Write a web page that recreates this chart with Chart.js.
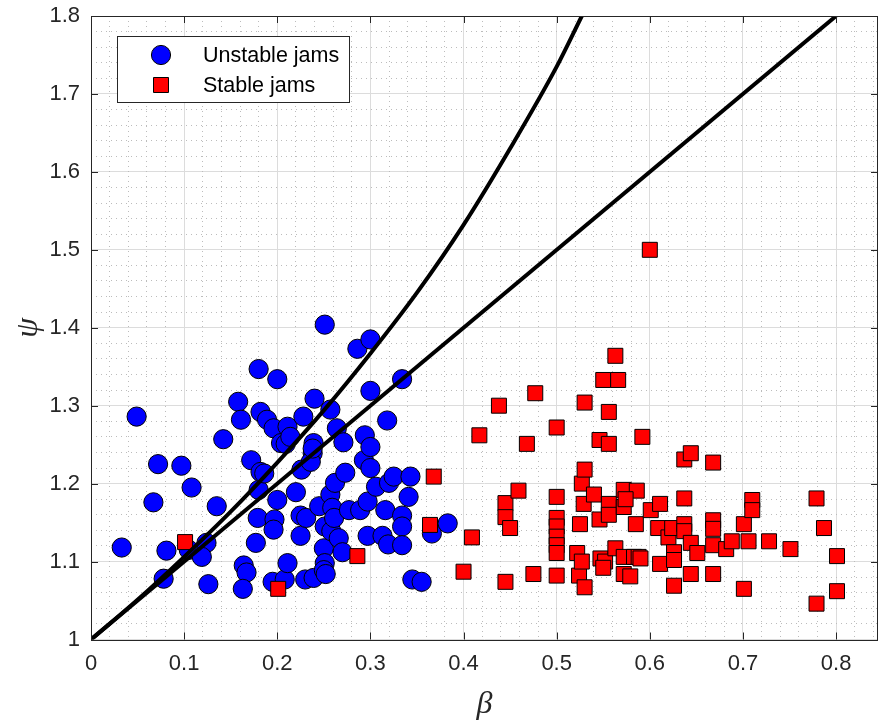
<!DOCTYPE html>
<html><head><meta charset="utf-8">
<script src="https://cdn.jsdelivr.net/npm/chart.js@4/dist/chart.umd.min.js"></script>
<style>html,body{margin:0;padding:0;background:#fff;}#wrap{width:879px;height:724px;}</style>
</head><body><div id="wrap"><canvas id="c" width="879" height="724"></canvas></div>
<script>
const unstableBeta = [0.033,0.049,0.067,0.072,0.081,0.078,0.097,0.108,0.105,0.124,
0.119,0.126,0.135,0.142,0.158,0.161,0.164,0.167,0.163,0.172,
0.177,0.179,0.180,0.180,0.182,0.182,0.186,0.189,0.196,0.195,
0.197,0.196,0.200,0.200,0.204,0.208,0.209,0.211,0.211,0.214,
0.220,0.226,0.225,0.225,0.228,0.231,0.230,0.238,0.236,0.239,
0.239,0.238,0.240,0.245,0.251,0.251,0.250,0.251,0.250,0.252,
0.257,0.257,0.258,0.259,0.261,0.262,0.264,0.266,0.270,0.271,
0.273,0.277,0.286,0.289,0.293,0.294,0.297,0.297,0.300,0.300,
0.300,0.300,0.306,0.313,0.316,0.318,0.319,0.320,0.325,0.334,
0.334,0.334,0.334,0.341,0.343,0.345,0.355,0.366,0.383];
const unstablePsi = [1.118,1.286,1.176,1.225,1.114,1.078,1.223,1.195,1.115,1.124,
1.106,1.071,1.171,1.257,1.305,1.282,1.095,1.086,1.065,1.230,
1.124,1.156,1.347,1.192,1.292,1.215,1.213,1.282,1.271,1.074,
1.154,1.141,1.334,1.179,1.252,1.077,1.251,1.273,1.098,1.260,
1.189,1.218,1.159,1.133,1.286,1.156,1.077,1.239,1.228,1.079,
1.252,1.245,1.309,1.171,1.404,1.145,1.117,1.098,1.089,1.084,
1.295,1.186,1.139,1.169,1.156,1.201,1.271,1.130,1.112,1.253,
1.214,1.166,1.373,1.166,1.230,1.262,1.177,1.133,1.385,1.319,
1.247,1.220,1.196,1.133,1.166,1.281,1.122,1.201,1.209,1.334,
1.159,1.145,1.121,1.183,1.209,1.077,1.074,1.136,1.149];
const stableBeta = [0.101,0.201,0.286,0.364,0.368,0.400,0.409,0.417,0.438,0.445,
0.445,0.445,0.450,0.459,0.468,0.475,0.477,0.500,0.500,0.500,
0.500,0.500,0.500,0.500,0.500,0.522,0.525,0.524,0.527,0.527,
0.529,0.530,0.530,0.530,0.540,0.546,0.546,0.547,0.552,0.550,
0.550,0.556,0.556,0.556,0.556,0.563,0.563,0.566,0.572,0.572,
0.572,0.572,0.579,0.583,0.586,0.585,0.588,0.590,0.592,0.600,
0.601,0.609,0.611,0.611,0.620,0.624,0.626,0.626,0.626,0.637,
0.644,0.637,0.637,0.637,0.644,0.644,0.651,0.668,0.668,0.668,
0.668,0.668,0.682,0.688,0.701,0.701,0.706,0.710,0.710,0.728,
0.751,0.779,0.779,0.787,0.801,0.801,0.574];
const stablePsi = [1.125,1.065,1.107,1.147,1.209,1.087,1.131,1.262,1.300,1.175,
1.157,1.074,1.143,1.191,1.251,1.084,1.316,1.272,1.183,1.156,
1.145,1.132,1.121,1.111,1.082,1.111,1.148,1.082,1.100,1.200,
1.174,1.218,1.067,1.304,1.186,1.256,1.154,1.104,1.100,1.092,
1.333,1.251,1.174,1.160,1.292,1.117,1.364,1.333,1.192,1.170,
1.106,1.084,1.081,1.106,1.191,1.148,1.106,1.104,1.260,1.500,
1.166,1.143,1.174,1.097,1.131,1.143,1.112,1.102,1.069,1.231,
1.239,1.181,1.148,1.139,1.124,1.084,1.111,1.227,1.153,1.142,
1.121,1.084,1.116,1.126,1.148,1.065,1.126,1.179,1.166,1.126,
1.116,1.181,1.046,1.143,1.107,1.062,1.180];
const lineBeta = [0, 0.8];
const linePsi = [1, 1.8];
const curveBeta = [0, 0.05, 0.10, 0.15, 0.20, 0.25, 0.30, 0.35, 0.40, 0.45, 0.50, 0.527];
const curvePsi  = [1, 1.051, 1.106, 1.164, 1.227, 1.294, 1.367, 1.445, 1.532, 1.630, 1.735, 1.8];
const xTickValues = [0, 0.1, 0.2, 0.3, 0.4, 0.5, 0.6, 0.7, 0.8];
const xTickLabels = ['0','0.1','0.2','0.3','0.4','0.5','0.6','0.7','0.8'];
const yTickValues = [1, 1.1, 1.2, 1.3, 1.4, 1.5, 1.6, 1.7, 1.8];
const yTickLabels = ['1','1.1','1.2','1.3','1.4','1.5','1.6','1.7','1.8'];
const legendLabels = ['Unstable jams', 'Stable jams'];
const xLimits = [0, 0.845];
const yLimits = [1, 1.8];

const toPts = (xs, ys) => xs.map((x, i) => ({x: x, y: ys[i]}));
const AX = '#262626';
const TICK_FONT = {family: 'Liberation Sans', size: 22};

function minorValues(lo, hi, step) {
  const out = [];
  for (let v = lo; v <= hi + 1e-9; v += step) out.push(Math.round(v * 1000) / 1000);
  return out;
}
function isMajor(v) { return Math.abs(v * 10 - Math.round(v * 10)) < 1e-6; }
function zeroPad(s) { s.paddingLeft = 0; s.paddingRight = 0; s.paddingTop = 0; s.paddingBottom = 0; }

const framePlugin = {
  id: 'frame',
  afterDatasetsDraw(chart) {
    const {ctx, chartArea: a, scales} = chart;
    ctx.save();
    ctx.strokeStyle = AX; ctx.lineWidth = 1;
    ctx.beginPath();
    const L = 7;
    xTickValues.forEach(v => {
      const px = Math.round(scales.x.getPixelForValue(v)) + 0.5;
      ctx.moveTo(px, a.bottom); ctx.lineTo(px, a.bottom - L);
      ctx.moveTo(px, a.top); ctx.lineTo(px, a.top + L);
    });
    yTickValues.forEach(v => {
      const py = Math.round(scales.y.getPixelForValue(v)) + 0.5;
      ctx.moveTo(a.left, py); ctx.lineTo(a.left + L, py);
      ctx.moveTo(a.right, py); ctx.lineTo(a.right - L, py);
    });
    ctx.stroke();
    ctx.strokeRect(Math.round(a.left) + 0.5, Math.round(a.top) + 0.5, Math.round(a.right - a.left) - 1, Math.round(a.bottom - a.top));
    ctx.restore();
  }
};

const legendPlugin = {
  id: 'boxLegend',
  afterDraw(chart) {
    const {ctx, chartArea: a} = chart;
    const x0 = a.left + 26, y0 = a.top + 20, w = 232, h = 66;
    ctx.save();
    ctx.fillStyle = '#fff';
    ctx.fillRect(x0, y0, w, h);
    ctx.strokeStyle = AX; ctx.lineWidth = 1;
    ctx.strokeRect(Math.round(x0) + 0.5, Math.round(y0) + 0.5, w, h);
    const ds = [chart.data.datasets[3], chart.data.datasets[2]];
    ds.forEach((d, i) => {
      const cx = x0 + 44, cy = y0 + 19 + i * 30;
      ctx.fillStyle = d.backgroundColor; ctx.strokeStyle = d.borderColor; ctx.lineWidth = d.borderWidth;
      ctx.beginPath();
      if (d.pointStyle === 'rect') {
        const s = Math.SQRT1_2 * d.pointRadius;
        ctx.rect(cx - s, cy - s, 2 * s, 2 * s);
      } else {
        ctx.arc(cx, cy, d.pointRadius, 0, Math.PI * 2);
      }
      ctx.fill(); ctx.stroke();
      ctx.fillStyle = '#000';
      ctx.font = '21.5px "Liberation Sans"';
      ctx.textBaseline = 'middle'; ctx.textAlign = 'left';
      ctx.fillText(legendLabels[i], x0 + 86, cy + 1);
    });
    ctx.restore();
  }
};

new Chart(document.getElementById('c'), {
  type: 'scatter',
  data: {
    datasets: [
      {label: 'line', data: toPts(lineBeta, linePsi), showLine: true, borderColor: '#000', borderWidth: 4,
       pointRadius: 0, pointHoverRadius: 0, fill: false, order: 0},
      {label: 'curve', data: toPts(curveBeta, curvePsi), showLine: true, borderColor: '#000', borderWidth: 4,
       pointRadius: 0, pointHoverRadius: 0, fill: false, cubicInterpolationMode: 'monotone', order: 0},
      {label: legendLabels[1], data: toPts(stableBeta, stablePsi), pointStyle: 'rect', pointRadius: 10.6,
       backgroundColor: '#ff0000', borderColor: '#000', borderWidth: 1, order: 1},
      {label: legendLabels[0], data: toPts(unstableBeta, unstablePsi), pointStyle: 'circle', pointRadius: 9.6,
       backgroundColor: '#0000ff', borderColor: '#000', borderWidth: 1, order: 2}
    ]
  },
  options: {
    responsive: false, animation: false, devicePixelRatio: 1,
    layout: {autoPadding: false, padding: {left: 0, top: 16, right: 1, bottom: 0}},
    plugins: {legend: {display: false}, tooltip: {enabled: false}},
    scales: {
      x: {
        type: 'linear', position: 'bottom', min: xLimits[0], max: xLimits[1],
        afterBuildTicks: s => { s.ticks = xTickValues.map(v => ({value: v})); },
        afterFit: s => { s.height = 84.5; zeroPad(s); },
        ticks: {callback: (v, i) => xTickLabels[i], font: TICK_FONT, color: AX, padding: 11, maxRotation: 0, autoSkip: false},
        grid: {color: '#dcdcdc', lineWidth: 1, drawTicks: false},
        border: {display: false},
        title: {display: true, text: 'β', font: {family: 'Liberation Serif', size: 32, style: 'italic'}, color: AX, padding: {top: 0, bottom: 0}}
      },
      y: {
        type: 'linear', position: 'left', min: yLimits[0], max: yLimits[1],
        afterBuildTicks: s => { s.ticks = yTickValues.map(v => ({value: v})); },
        afterFit: s => { s.width = 91; zeroPad(s); },
        ticks: {callback: (v, i) => yTickLabels[i], font: TICK_FONT, color: AX, padding: 11, autoSkip: false},
        grid: {color: '#dcdcdc', lineWidth: 1, drawTicks: false},
        border: {display: false},
        title: {display: true, text: 'ψ', font: {family: 'Liberation Serif', size: 32, style: 'italic'}, color: AX, padding: {top: 9, bottom: 0}}
      },
      x2: {
        type: 'linear', position: 'top', min: xLimits[0], max: xLimits[1],
        afterBuildTicks: s => { s.ticks = minorValues(0, 0.84, 0.02).map(v => ({value: v})); },
        afterFit: s => { s.height = 0; zeroPad(s); },
        ticks: {display: false},
        grid: {color: c => isMajor(c.tick.value) ? 'rgba(0,0,0,0)' : '#bcbcbc', lineWidth: 1, drawTicks: false},
        border: {display: false, dash: [1, 4]}
      },
      y2: {
        type: 'linear', position: 'right', min: yLimits[0], max: yLimits[1],
        afterBuildTicks: s => { s.ticks = minorValues(1, 1.8, 0.02).map(v => ({value: v})); },
        afterFit: s => { s.width = 0; zeroPad(s); },
        ticks: {display: false},
        grid: {color: c => isMajor(c.tick.value) ? 'rgba(0,0,0,0)' : '#bcbcbc', lineWidth: 1, drawTicks: false},
        border: {display: false, dash: [1, 4]}
      }
    }
  },
  plugins: [framePlugin, legendPlugin]
});
</script></body></html>
